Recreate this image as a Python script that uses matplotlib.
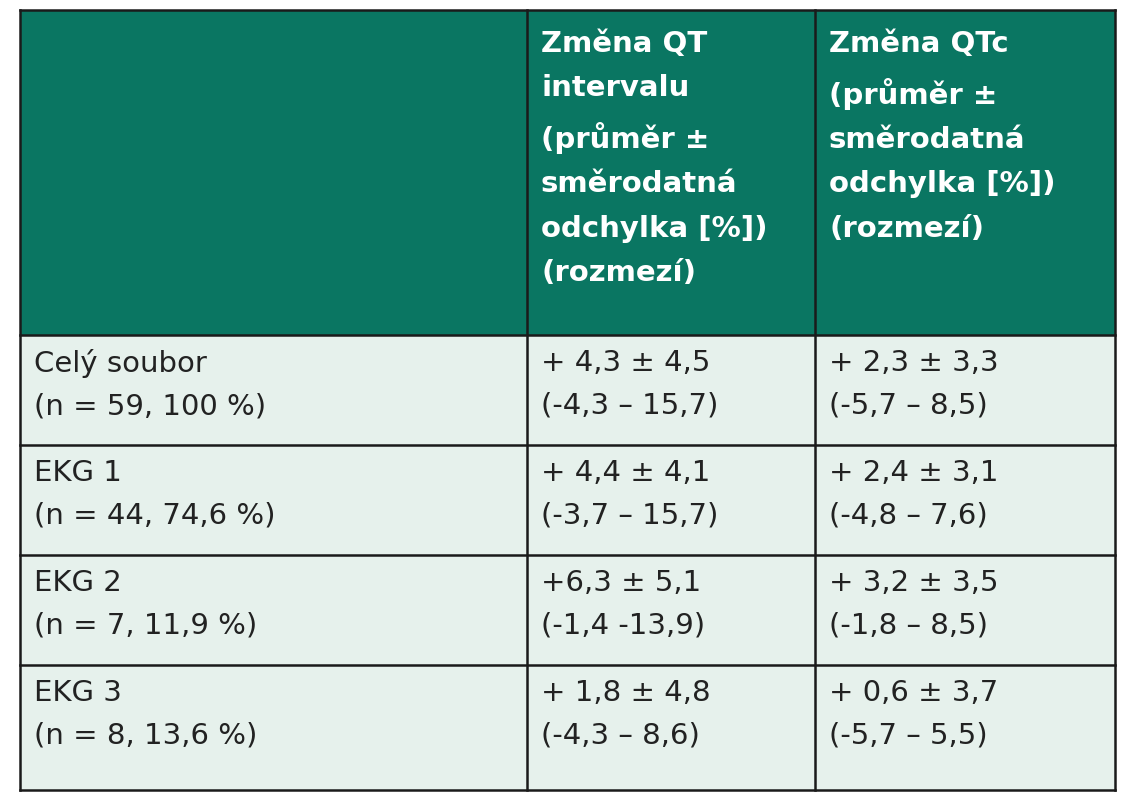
import matplotlib
matplotlib.use('Agg')
import matplotlib.pyplot as plt
from matplotlib.patches import Rectangle

header = ["", "Změna QT\nintervalu\n(průměr ±\nsměrodatná\nodchylka [%])\n(rozmezí)",
          "Změna QTc\n(průměr ±\nsměrodatná\nodchylka [%])\n(rozmezí)"]
groups = ["Celý soubor\n(n = 59, 100 %)", "EKG 1\n(n = 44, 74,6 %)",
          "EKG 2\n(n = 7, 11,9 %)", "EKG 3\n(n = 8, 13,6 %)"]
qt = ["+ 4,3 ± 4,5\n(-4,3 – 15,7)", "+ 4,4 ± 4,1\n(-3,7 – 15,7)",
      "+6,3 ± 5,1\n(-1,4 -13,9)", "+ 1,8 ± 4,8\n(-4,3 – 8,6)"]
qtc = ["+ 2,3 ± 3,3\n(-5,7 – 8,5)", "+ 2,4 ± 3,1\n(-4,8 – 7,6)",
       "+ 3,2 ± 3,5\n(-1,8 – 8,5)", "+ 0,6 ± 3,7\n(-5,7 – 5,5)"]

col_x = [20, 527, 815, 1115]
row_y = [10, 335, 445, 555, 665, 790]

fig = plt.figure(figsize=(11.48, 8), dpi=100)
ax = fig.add_axes([0, 0, 1, 1])
ax.set_xlim(0, 1148)
ax.set_ylim(800, 0)
ax.axis('off')

head_c = '#0a7662'
body_c = '#e6f1ec'
line_c = '#1a1a1a'

ax.add_patch(Rectangle((col_x[0], row_y[0]), col_x[-1] - col_x[0], row_y[1] - row_y[0],
                       fc=head_c, ec='none'))
ax.add_patch(Rectangle((col_x[0], row_y[1]), col_x[-1] - col_x[0], row_y[-1] - row_y[1],
                       fc=body_c, ec='none'))

for x in col_x:
    ax.plot([x, x], [row_y[0], row_y[-1]], color=line_c, lw=1.8)
for y in row_y:
    ax.plot([col_x[0], col_x[-1]], [y, y], color=line_c, lw=1.8)

fs = 21
for j, t in enumerate(header):
    ax.text(col_x[j] + 14, row_y[0] + 20, t, color='white', fontsize=fs,
            fontweight='bold', va='top', ha='left', linespacing=1.75)

for i in range(len(groups)):
    for j, t in enumerate([groups[i], qt[i], qtc[i]]):
        ax.text(col_x[j] + 14, row_y[i + 1] + 14, t, color='#222222', fontsize=fs,
                va='top', ha='left', linespacing=1.65)

fig.savefig('out.png', dpi=100, facecolor='white')
